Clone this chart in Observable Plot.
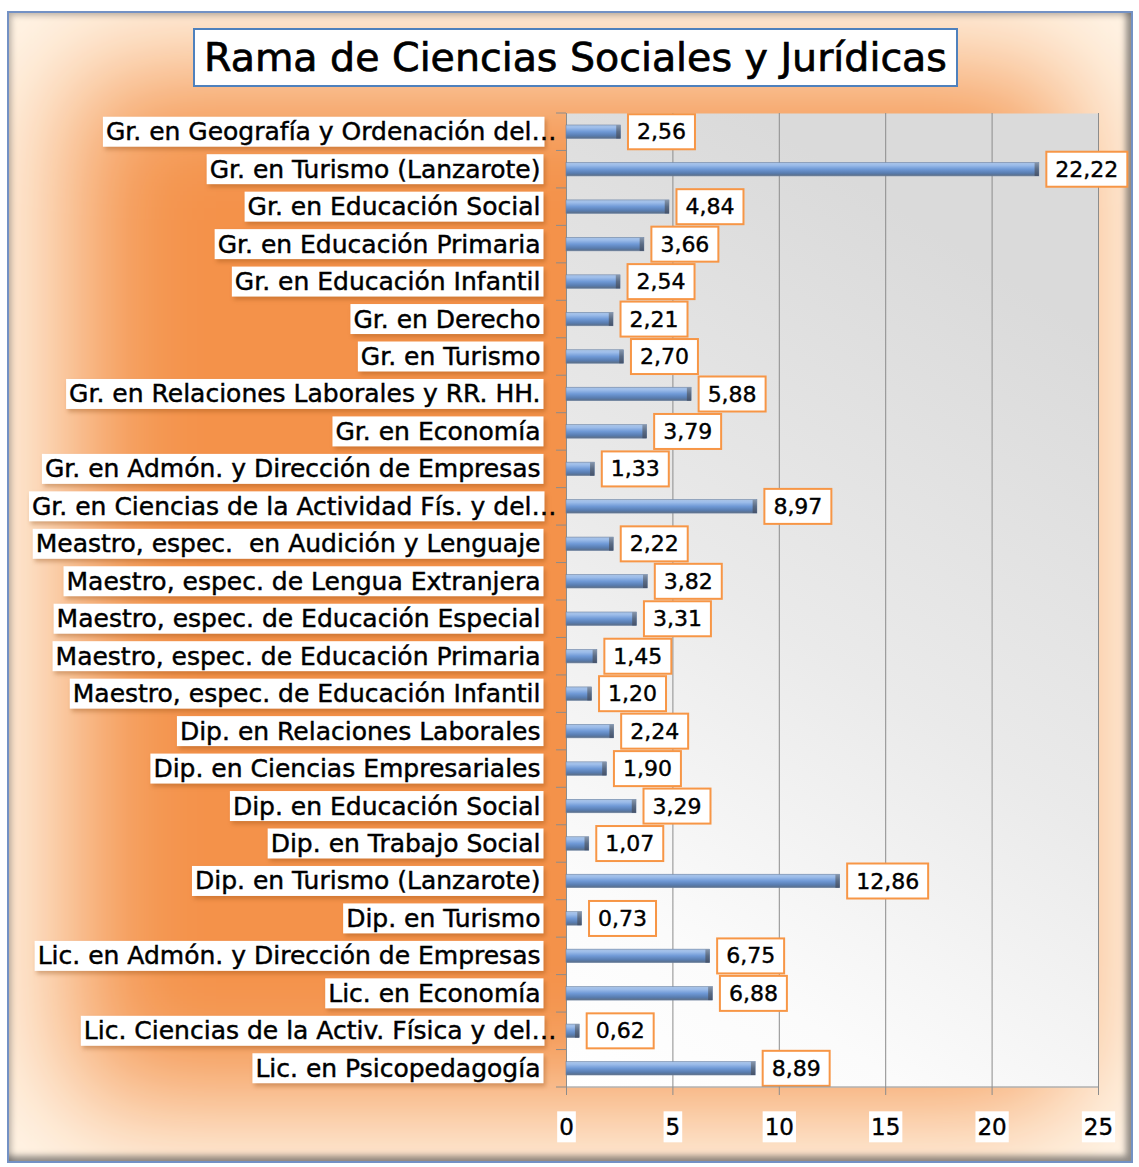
<!DOCTYPE html>
<html><head><meta charset="utf-8">
<script src="https://cdn.jsdelivr.net/npm/d3@7"></script>
<script src="https://cdn.jsdelivr.net/npm/@observablehq/plot@0.6"></script>
<style>
body{margin:0;background:#fff;}
#page{position:relative;width:1139px;height:1167px;overflow:hidden;font-family:"DejaVu Sans",sans-serif;}
#frame{position:absolute;left:7px;top:11px;width:1122px;height:1148px;border:2px solid #7391c4;background:#f4924a;
 box-shadow: inset -8px -8px 6px -3px rgba(70,70,70,0.6), inset 5px 5px 6px -3px rgba(70,70,70,0.4), inset 0 0 125px 58px #fff8ec;}
#title{position:absolute;left:193px;top:28px;width:761px;height:55px;border:2px solid #4f81bd;background:#fff;font-size:39.5px;line-height:55px;text-align:center;color:#000;white-space:nowrap;-webkit-text-stroke:0.7px #000;}
#chart{position:absolute;left:0;top:0;}
#err{position:absolute;left:10px;top:1140px;color:red;font-size:12px;}
</style></head>
<body>
<div id="page"><div id="frame"></div><div id="chart"></div><div id="title">Rama de Ciencias Sociales y Jurídicas</div><div id="err"></div></div>
<script>
const names = [
  "Gr. en Geografía y Ordenación del…",
  "Gr. en Turismo (Lanzarote)",
  "Gr. en Educación Social",
  "Gr. en Educación Primaria",
  "Gr. en Educación Infantil",
  "Gr. en Derecho",
  "Gr. en Turismo",
  "Gr. en Relaciones Laborales y RR. HH.",
  "Gr. en Economía",
  "Gr. en Admón. y Dirección de Empresas",
  "Gr. en Ciencias de la Actividad Fís. y del…",
  "Meastro, espec.  en Audición y Lenguaje",
  "Maestro, espec. de Lengua Extranjera",
  "Maestro, espec. de Educación Especial",
  "Maestro, espec. de Educación Primaria",
  "Maestro, espec. de Educación Infantil",
  "Dip. en Relaciones Laborales",
  "Dip. en Ciencias Empresariales",
  "Dip. en Educación Social",
  "Dip. en Trabajo Social",
  "Dip. en Turismo (Lanzarote)",
  "Dip. en Turismo",
  "Lic. en Admón. y Dirección de Empresas",
  "Lic. en Economía",
  "Lic. Ciencias de la Activ. Física y del…",
  "Lic. en Psicopedagogía"
];
const values = [2.56, 22.22, 4.84, 3.66, 2.54, 2.21, 2.70, 5.88, 3.79, 1.33, 8.97, 2.22, 3.82, 3.31, 1.45, 1.20, 2.24, 1.90, 3.29, 1.07, 12.86, 0.73, 6.75, 6.88, 0.62, 8.89];
const xTicks = [0, 5, 10, 15, 20, 25];

const data = names.map((name, i) => ({name, value: values[i]}));
const fmt = v => v.toFixed(2).replace(".", ",");
const NS = "http://www.w3.org/2000/svg";

try {
const plot = Plot.plot({
  width: 1139, height: 1167,
  marginLeft: 566, marginRight: 41, marginTop: 113, marginBottom: 80,
  style: {background: "none", fontFamily: "DejaVu Sans", overflow: "visible"},
  x: {domain: [0, 25], label: null},
  y: {domain: names, padding: 0, round: false, label: null},
  marks: [
    Plot.frame({fill: "url(#plotbg)", stroke: "none"}),
    Plot.ruleX(xTicks, {stroke: "#8c8c8c", strokeWidth: 1}),
    Plot.barX(data, {x: "value", y: "name", fill: "url(#bargrad)", stroke: "#6d83a3", strokeWidth: 0.6, insetTop: 12, insetBottom: 12}),
    Plot.barX(data, {x1: d => Math.max(0, d.value - 0.2), x2: "value", y: "name", fill: "url(#capgrad)", insetTop: 12, insetBottom: 12}),
    Plot.text(data, {x: "value", y: "name", text: d => fmt(d.value), dx: 16, textAnchor: "start", fontSize: 22, fill: "#000"}),
    Plot.axisX({ticks: xTicks, tickSize: 8, tickPadding: 23, fontSize: 23, stroke: "#8c8c8c", tickFormat: d => String(d)}),
    Plot.axisY({tickSize: 0, tickPadding: 26, fontSize: 25})
  ]
});
document.getElementById("chart").appendChild(plot);

const svg = d3.select(plot);
svg.insert("defs", ":first-child").html(`
  <linearGradient id="plotbg" x1="0.35" y1="0" x2="0" y2="1">
    <stop offset="0" stop-color="#dadada"/>
    <stop offset="0.45" stop-color="#eaeaea"/>
    <stop offset="0.8" stop-color="#fbfbfb"/>
    <stop offset="1" stop-color="#ffffff"/>
  </linearGradient>
  <linearGradient id="bargrad" x1="0" y1="0" x2="0" y2="1">
    <stop offset="0" stop-color="#aac4e6"/>
    <stop offset="0.2" stop-color="#9dbdea"/>
    <stop offset="0.5" stop-color="#6f99d6"/>
    <stop offset="0.8" stop-color="#587caf"/>
    <stop offset="1" stop-color="#5d6e84"/>
  </linearGradient>
  <linearGradient id="capgrad" x1="0" y1="0" x2="0" y2="1">
    <stop offset="0" stop-color="#8797ad"/>
    <stop offset="0.5" stop-color="#5a6b84"/>
    <stop offset="1" stop-color="#45526a"/>
  </linearGradient>
`);

const x = plot.scale("x"), y = plot.scale("y");
const x0 = x.apply(0), x25 = x.apply(25);
const bounds = names.map(n => y.apply(n));
const yBottom = bounds[bounds.length - 1] + y.bandwidth;
bounds.push(yBottom);
const grid = svg.append("g").attr("stroke", "#8c8c8c").attr("stroke-width", 1);
bounds.forEach(b => grid.append("line").attr("x1", x0 - 10).attr("x2", x0).attr("y1", b).attr("y2", b));
grid.append("line").attr("x1", x0).attr("x2", x25).attr("y1", yBottom).attr("y2", yBottom);

const valueSet = new Set(values.map(fmt));
const nameSet = new Set(names);
const tickSet = new Set(xTicks.map(String));

function addBox(el, opts) {
  const b = el.getBBox();
  const cy = b.y + b.height / 2;
  const r = document.createElementNS(NS, "rect");
  const left = b.x - opts.padL;
  const right = opts.right != null ? opts.right(b) : b.x + b.width + opts.padR;
  r.setAttribute("x", left); r.setAttribute("width", right - left);
  r.setAttribute("y", cy - opts.h / 2); r.setAttribute("height", opts.h);
  r.setAttribute("fill", "#fff");
  if (opts.stroke) { r.setAttribute("stroke", opts.stroke); r.setAttribute("stroke-width", 2); }
  if (opts.filter) r.style.filter = opts.filter;
  const tr = el.getAttribute("transform");
  if (tr) r.setAttribute("transform", tr);
  el.parentNode.insertBefore(r, el);
}

svg.selectAll("text").each(function() {
  const s = this.textContent;
  const t = d3.select(this);
  if (nameSet.has(s)) {
    t.style("white-space", "pre").attr("stroke", "#000").attr("stroke-width", 0.45).attr("fill", "#000");
    const ell = s.endsWith("…");
    if (ell) t.attr("dx", 16);
    addBox(this, {padL: 3, padR: 3, h: 30, right: ell ? (b => b.x + b.width - 12) : null,
      filter: "drop-shadow(2px 3px 2px rgba(140,70,10,0.35))"});
  } else if (valueSet.has(s)) {
    t.attr("stroke", "#000").attr("stroke-width", 0.4).attr("fill", "#000");
    addBox(this, {padL: 9, padR: 9, h: 35, stroke: "#f79646"});
  } else if (tickSet.has(s)) {
    t.attr("stroke", "#000").attr("stroke-width", 0.4).attr("fill", "#000");
    addBox(this, {padL: 2, padR: 2, h: 31});
  }
});
} catch (e) {
  document.getElementById("err").textContent = String(e && e.stack || e);
}
</script>
</body></html>
